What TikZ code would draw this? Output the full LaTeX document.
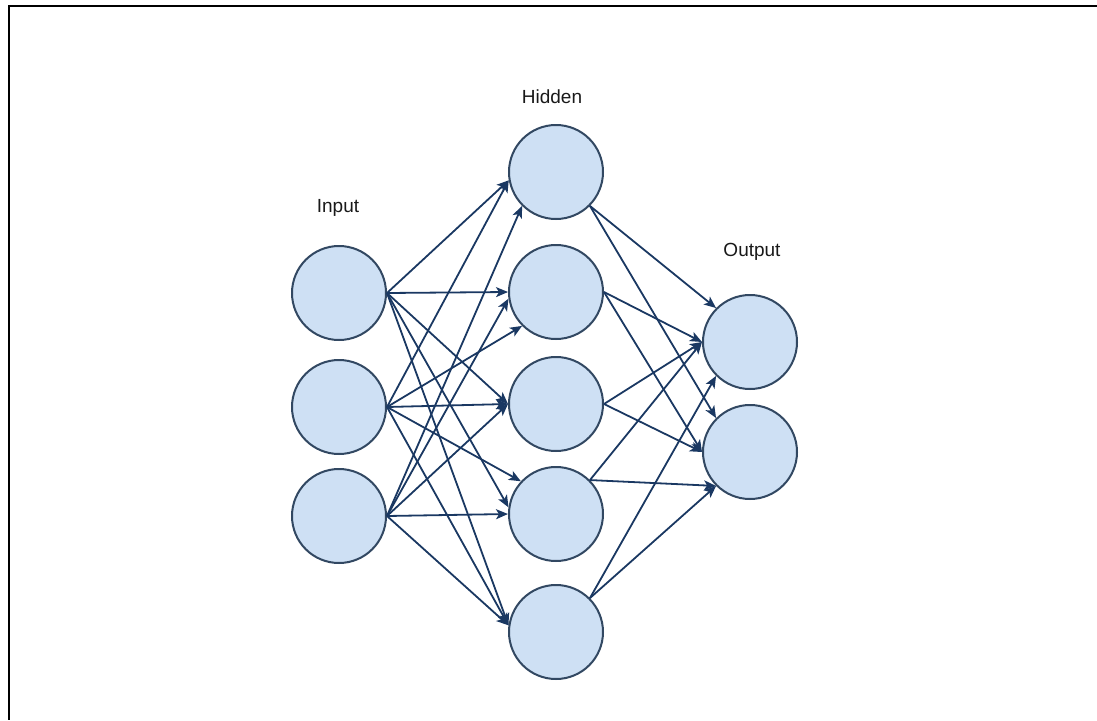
\documentclass[tikz,border=0pt]{standalone}
\usepackage{fontspec}
\setmainfont{Liberation Sans}
\usetikzlibrary{arrows.meta}
\definecolor{cellfill}{RGB}{206,224,244}
\definecolor{cellline}{RGB}{50,72,98}
\definecolor{wire}{RGB}{26,56,98}
\definecolor{labeltext}{RGB}{25,25,25}
\tikzset{
  neuron/.style={circle, draw=cellline, fill=cellfill, line width=2pt,
    minimum size=94pt, inner sep=0pt},
  layerlabel/.style={text=labeltext, font=\fontsize{19}{22}\selectfont, inner sep=0pt},
  wireline/.style={draw=wire, line width=1.8pt,
    -{Stealth[length=12pt,width=10pt,inset=3pt]}},
}
\begin{document}
\begin{tikzpicture}[x=1pt,y=-1pt]
\useasboundingbox (0,0) rectangle (1097,720);
% frame along the top and left edges
\draw[line width=2.5pt] (1097,6) -- (9,6) -- (9,720);

% input layer
\node[neuron] (i1) at (339,293) {};
\node[neuron] (i2) at (339,407) {};
\node[neuron] (i3) at (339,516) {};
% hidden layer
\node[neuron] (h1) at (556,172) {};
\node[neuron] (h2) at (556,292) {};
\node[neuron] (h3) at (556,404) {};
\node[neuron] (h4) at (556,514) {};
\node[neuron] (h5) at (556,632) {};
% output layer
\node[neuron] (o1) at (750,342) {};
\node[neuron] (o2) at (750,452) {};

% layer captions
\node[layerlabel] (lin)  at (338,208) {Input};
\node[layerlabel] (lhid) at (552,97)  {Hidden};
\node[layerlabel] (lout) at (752,252) {Output};

% input -> hidden
\draw[wireline] (i1.east) -- (h1.190);
\draw[wireline] (i2.east) -- (h1.190);
\draw[wireline] (i3.east) -- (h1.225);
\draw[wireline] (i1.east) -- (h2.180);
\draw[wireline] (i2.east) -- (h2.225);
\draw[wireline] (i3.east) -- (h2.188);
\draw[wireline] (i1.east) -- (h3.180);
\draw[wireline] (i2.east) -- (h3.180);
\draw[wireline] (i3.east) -- (h3.180);
\draw[wireline] (i1.east) -- (h4.172);
\draw[wireline] (i2.east) -- (h4.137);
\draw[wireline] (i3.east) -- (h4.180);
\draw[wireline] (i1.east) -- (h5.172);
\draw[wireline] (i2.east) -- (h5.172);
\draw[wireline] (i3.east) -- (h5.172);

% hidden -> output
\draw[wireline] (h1.315) -- (o1.135);
\draw[wireline] (h1.315) -- (o2.135);
\draw[wireline] (h2.east) -- (o1.180);
\draw[wireline] (h2.east) -- (o2.180);
\draw[wireline] (h3.east) -- (o1.180);
\draw[wireline] (h3.east) -- (o2.180);
\draw[wireline] (h4.45) -- (o1.180);
\draw[wireline] (h4.45) -- (o2.225);
\draw[wireline] (h5.45) -- (o1.225);
\draw[wireline] (h5.45) -- (o2.225);
\end{tikzpicture}
\end{document}
